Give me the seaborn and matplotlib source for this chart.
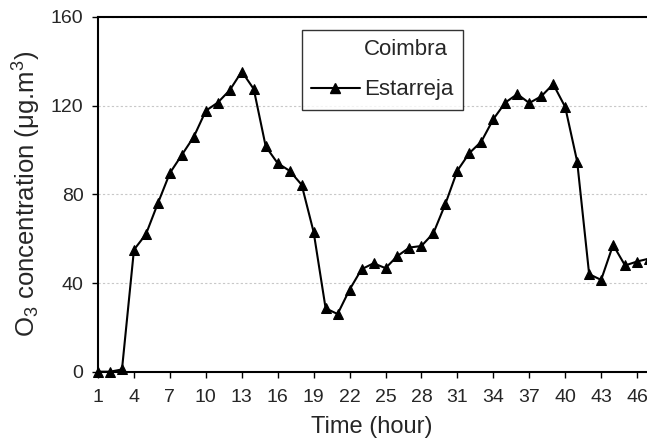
import matplotlib
matplotlib.use("Agg")
import matplotlib.pyplot as plt
import seaborn as sns
import pandas as pd
from matplotlib.lines import Line2D

hours = list(range(1, 48))
estarreja = [0, 0, 1, 55, 62, 76, 89.6, 97.8, 106, 117.7, 121.4, 127, 135.4, 127.5,
             101.6, 94, 90.6, 84.3, 63, 28.6, 26, 37, 46.2, 48.9, 46.7, 52.2, 56,
             56.7, 62.5, 75.7, 90.7, 98.6, 103.8, 113.9, 121.4, 125.2, 121.2, 124.2,
             129.7, 119.4, 94.8, 44, 41.4, 57.2, 47.9, 49.7, 51]
xticks = list(range(1, 47, 3))
yticks = [0, 40, 80, 120, 160]
series_names = ["Coimbra", "Estarreja"]

sns.set_style("white")
plt.rcParams['font.family'] = ['Liberation Sans', 'DejaVu Sans']
plt.rcParams['mathtext.fontset'] = 'custom'
plt.rcParams['mathtext.rm'] = 'Liberation Sans'
plt.rcParams['mathtext.it'] = 'Liberation Sans'

df = pd.DataFrame({"hour": hours, "o3": estarreja})

fig = plt.figure(figsize=(6.47, 4.47), dpi=100)
ax = fig.add_axes([0.1515, 0.1685, 0.8485, 0.7935])

ax.yaxis.grid(True, color='#c8c8c8', linestyle=(0, (2, 2)), linewidth=0.8)
ax.set_axisbelow(True)

sns.lineplot(data=df, x="hour", y="o3", ax=ax, color='black', linewidth=1.5,
             marker='^', markersize=7.5, markeredgecolor='black',
             markerfacecolor='black', clip_on=False, zorder=3)

ax.set_xlim(1, 46.83)
ax.set_ylim(0, 160)
ax.set_xticks(xticks)
ax.set_yticks(yticks)
ax.tick_params(axis='both', labelsize=14, direction='out', length=4.5,
               width=1, color='black', bottom=True, left=True)
ax.tick_params(axis='y', pad=6)
ax.tick_params(axis='x', pad=8)

for s in ['left', 'bottom', 'top']:
    ax.spines[s].set_visible(True)
    ax.spines[s].set_color('black')
    ax.spines[s].set_linewidth(1.5)
ax.spines['right'].set_visible(False)

ax.set_xlabel("Time (hour)", fontsize=17)
ax.xaxis.set_label_coords((372 - 98) / 549, -(427 - 371.7) / 354.7)
ax.xaxis.label.set_va('center')
ax.set_ylabel("O$_3$ concentration (μg.m$^3$)", fontsize=18.5)
ax.yaxis.set_label_coords(-(98 - 27) / 549, 0.5)
ax.yaxis.label.set_va('center')

handles = [Line2D([], [], color='white', linewidth=1.5),
           Line2D([], [], color='black', linewidth=1.5, marker='^', markersize=6.5)]
leg = ax.legend(handles, series_names, loc='upper left',
                bbox_to_anchor=(0.371, 0.963), fontsize=16, frameon=True,
                fancybox=False, edgecolor='black', handlelength=2.2,
                handletextpad=0.2, borderpad=0.42, labelspacing=0.85,
                borderaxespad=0)
leg.get_frame().set_linewidth(1.0)

fig.savefig("out.png", dpi=100)
